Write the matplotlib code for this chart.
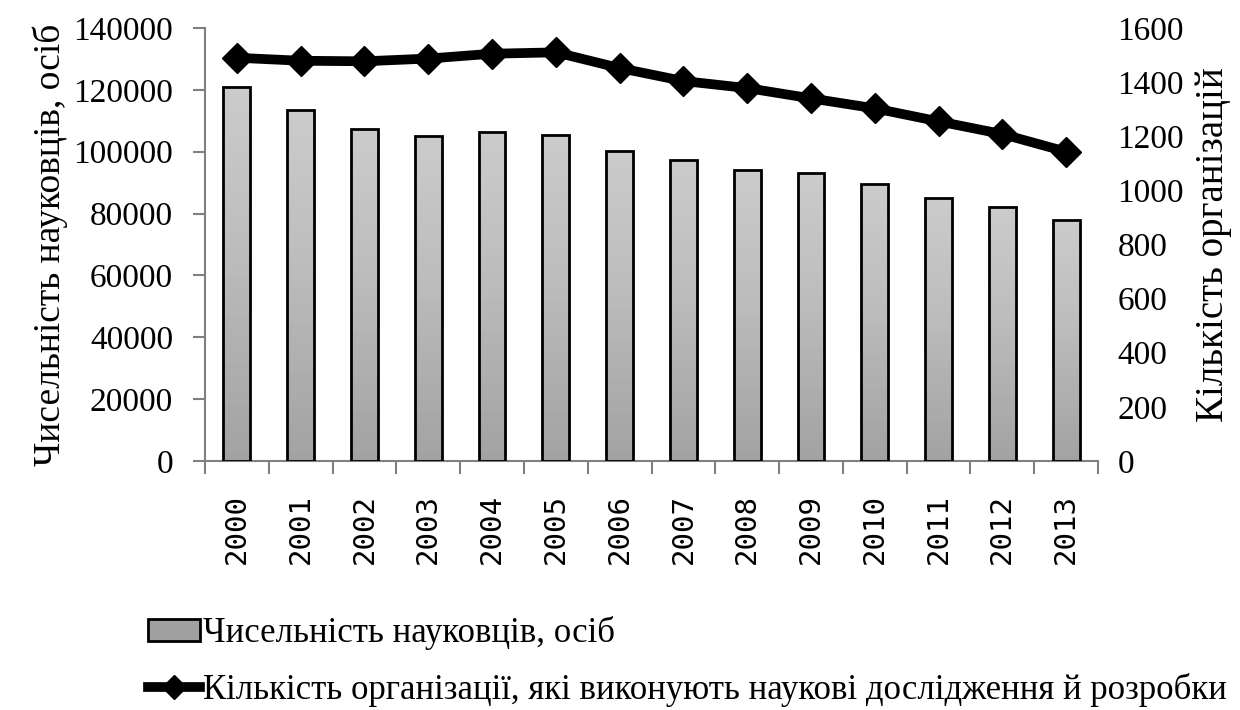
import matplotlib.pyplot as plt
from matplotlib.patches import Patch
import numpy as np

plt.rcParams['font.family'] = ['Liberation Serif', 'DejaVu Serif']

years = ['2000', '2001', '2002', '2003', '2004', '2005', '2006',
         '2007', '2008', '2009', '2010', '2011', '2012', '2013']
scientists = [120773, 113341, 107447, 105200, 106450, 105512, 100245,
              97282, 94065, 93000, 89534, 84969, 82032, 77853]
organizations = [1490, 1479, 1477, 1487, 1505, 1510, 1452,
                 1404, 1378, 1340, 1303, 1255, 1208, 1143]

label_bars = 'Чисельність науковців, осіб'
label_line = 'Кількість організації, які виконують наукові дослідження й розробки'
label_right = 'Кількість організацій'

fig = plt.figure(figsize=(12.4, 7.1), dpi=100)
ax = fig.add_axes([205 / 1240, 1 - 461 / 710, 893 / 1240, 433 / 710])
ax2 = ax.twinx()

x = np.arange(len(years))
bars = ax.bar(x, scientists, width=0.42, color='none', edgecolor='black',
              linewidth=2.0, zorder=3)

# soft vertical grey gradient inside every bar, darker at the bottom
grad = np.linspace(0, 1, 256).reshape(-1, 1)
for b in bars:
    bx, by = b.get_x(), b.get_y()
    w, h = b.get_width(), b.get_height()
    im = ax.imshow(grad, cmap='Greys_r', vmin=-3.6, vmax=3.07, aspect='auto',
                   extent=[bx, bx + w, by, by + h], origin='lower', zorder=2.5)
    im.set_clip_path(b)

line, = ax2.plot(x, organizations, color='black', linewidth=7, marker='D',
                 markersize=15, zorder=4)

ax.set_xlim(-0.5, len(years) - 0.5)
ax.set_ylim(0, 140000)
ax2.set_ylim(0, 1600)
ax.set_yticks(np.arange(0, 140001, 20000))
ax2.set_yticks(np.arange(0, 1601, 200))

ax.set_xticks(x)
ax.set_xticklabels(years, rotation=90, fontsize=21, family='DejaVu Sans Mono')
ax.set_xticks(np.arange(-0.5, len(years), 1), minor=True)
ax.tick_params(axis='x', which='major', length=0, pad=24)
ax.tick_params(axis='x', which='minor', length=9, color='#808080', width=1.5)
ax.tick_params(axis='y', labelsize=24, length=9, color='#808080', width=1.5, pad=14)
ax2.tick_params(axis='y', labelsize=24, length=0, pad=14)

for s in ['top', 'right']:
    ax.spines[s].set_visible(False)
for s in ['top', 'right', 'left', 'bottom']:
    ax2.spines[s].set_visible(False)
ax.spines['left'].set_color('#808080')
ax.spines['bottom'].set_color('#808080')
ax.spines['left'].set_linewidth(1.5)
ax.spines['bottom'].set_linewidth(1.5)

ax.set_ylabel(label_bars, fontsize=27, labelpad=4)
ax2.set_ylabel(label_right, fontsize=28, labelpad=8)

ax.set_zorder(ax2.get_zorder() - 1)
ax.patch.set_visible(False)

bar_handle = Patch(facecolor='#a0a0a0', edgecolor='black', linewidth=2.0)
fig.legend(handles=[bar_handle, line], labels=[label_bars, label_line],
           loc='upper left', bbox_to_anchor=(0.108, 0.152), frameon=False,
           fontsize=25, handlelength=1.5, handleheight=0.6, handletextpad=0.1,
           labelspacing=0.65, borderaxespad=0, markerscale=0.8)

fig.savefig('out.png', dpi=100)
